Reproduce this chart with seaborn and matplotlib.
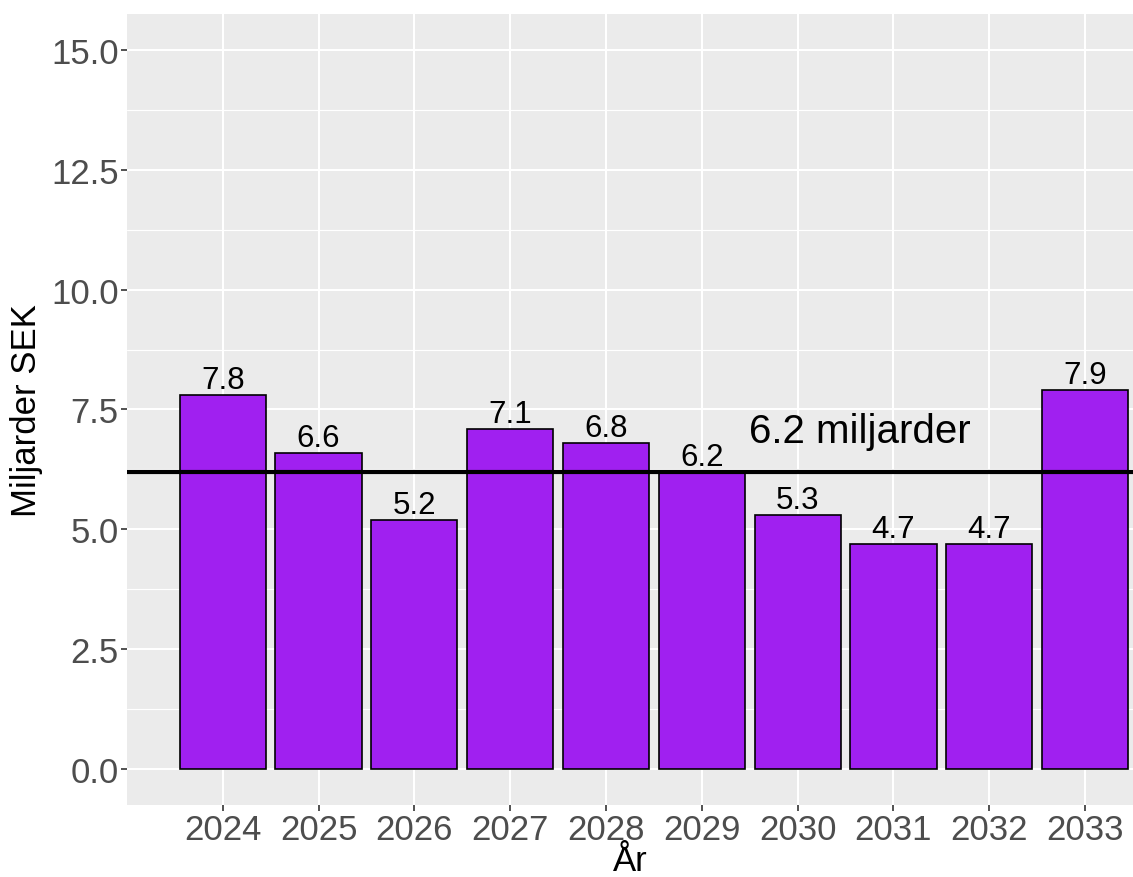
import pandas as pd
import matplotlib
matplotlib.use("Agg")
import matplotlib.pyplot as plt
import seaborn as sns
from matplotlib.ticker import MultipleLocator

# data
years = ["2024", "2025", "2026", "2027", "2028", "2029", "2030", "2031", "2032", "2033"]
values = [7.8, 6.6, 5.2, 7.1, 6.8, 6.2, 5.3, 4.7, 4.7, 7.9]
mean_line = 6.2
mean_label = "6.2 miljarder"

df = pd.DataFrame({"year": years, "value": values})

sns.set_theme(style="darkgrid")
plt.rcParams["font.family"] = ["Liberation Sans", "DejaVu Sans"]

fig = plt.figure(figsize=(11.33, 8.78), dpi=100)
ax = fig.add_axes([0.112, 0.082, 0.888, 0.901])
ax.set_facecolor("#EBEBEB")

sns.barplot(data=df, x="year", y="value", order=years, color="#A020F0",
            saturation=1, width=0.9, edgecolor="black", linewidth=1.2, ax=ax, zorder=2)

# value labels above bars
for i, v in enumerate(values):
    ax.annotate(f"{v}", (i, v), xytext=(0, 0), textcoords="offset points",
                ha="center", va="bottom", fontsize=22.5, color="black", zorder=4)

# mean line and its label
ax.axhline(mean_line, color="black", linewidth=3, zorder=3)
ax.text(6.65, 7.05, mean_label, ha="center", va="center", fontsize=29, color="black", zorder=4)

ax.set_xlim(-1, 9.5)
ax.set_ylim(-0.75, 15.75)
ax.yaxis.set_major_locator(MultipleLocator(2.5))
ax.yaxis.set_minor_locator(MultipleLocator(1.25))
ax.set_yticks([0, 2.5, 5, 7.5, 10, 12.5, 15])
ax.set_yticklabels(["0.0", "2.5", "5.0", "7.5", "10.0", "12.5", "15.0"])

ax.grid(which="major", color="white", linewidth=1.5, zorder=0)
ax.grid(which="minor", axis="y", color="white", linewidth=0.8, zorder=0)
ax.set_axisbelow(True)
for s in ax.spines.values():
    s.set_visible(False)

ax.tick_params(axis="both", which="major", labelsize=25, labelcolor="#4D4D4D",
               color="#333333", length=4, width=1.2, pad=2, bottom=True, left=True)
ax.tick_params(axis="both", which="minor", length=0)

ax.set_xlabel("År", fontsize=25, color="black", labelpad=-2)
ax.set_ylabel("Miljarder SEK", fontsize=25, color="black", labelpad=6)

fig.savefig("out.png", dpi=100)
